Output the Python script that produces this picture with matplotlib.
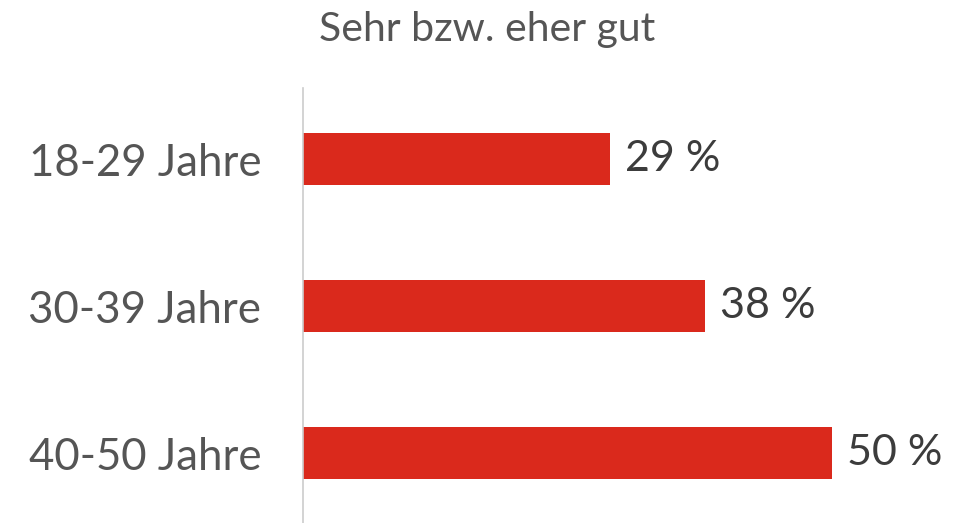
import matplotlib.pyplot as plt

# Daten
kategorien = ["18-29 Jahre", "30-39 Jahre", "40-50 Jahre"]
werte = [29, 38, 50]
titel = "Sehr bzw. eher gut"

plt.rcParams['font.family'] = ['Lato', 'DejaVu Sans']

fig = plt.figure(figsize=(9.75, 5.23), dpi=100)
ax = fig.add_axes([303/975, 0, 672/975, 1 - 88/523])

pos = list(range(len(kategorien)))
ax.barh(pos, werte, height=0.354, color="#DA291C")
ax.set_ylim(2.476, -0.483)
ax.set_xlim(0, 672/10.58)

for p, w in zip(pos, werte):
    ax.text(w + 1.4, p, f"{w} %", va="center", ha="left",
            fontsize=31, color="#3c3c3c")

ax.set_yticks(pos)
ax.set_yticklabels(kategorien, fontsize=31.5, color="#555555")
ax.tick_params(axis="y", length=0, pad=30)
ax.set_xticks([])
for s in ["top", "right", "bottom"]:
    ax.spines[s].set_visible(False)
ax.spines["left"].set_color("#cccccc")
ax.spines["left"].set_linewidth(1.2)

fig.text(487/975, 1 - 30/523, titel, ha="center", va="center",
         fontsize=29.5, color="#555555")

fig.savefig("out.png", dpi=100)
